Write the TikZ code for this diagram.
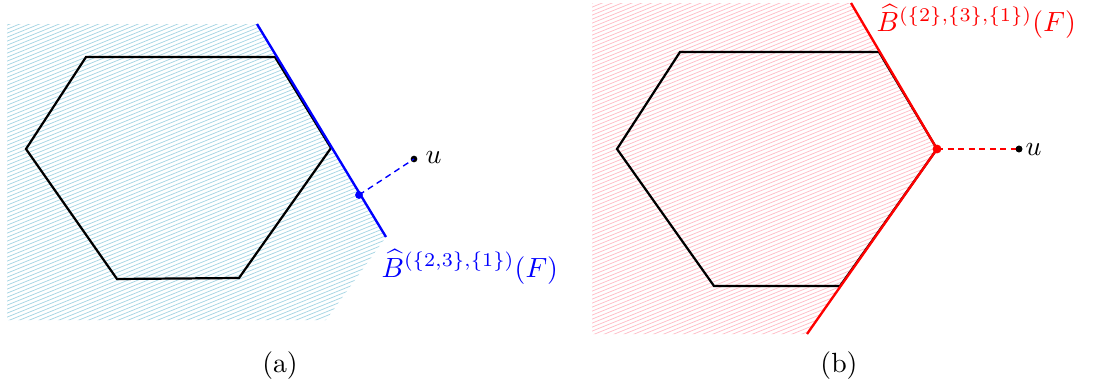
\documentclass[tikz,border=0pt]{standalone}
\usepackage{amsmath}
\definecolor{hatchblue}{RGB}{168,214,228}
\definecolor{hatchpink}{RGB}{255,190,200}
\tikzset{
  hex/.style={line width=0.8pt, black, line join=miter},
  bound/.style={line width=0.85pt},
  hatchline/.style={line width=0.28pt},
  dotnode/.style={circle, fill, inner sep=0pt, minimum size=2.4pt},
  dashconn/.style={dash pattern=on 2.2pt off 1.6pt},
  lbl/.style={anchor=base west, inner sep=0pt},
}
\begin{document}
\begin{tikzpicture}[x=0.36pt,y=-0.36pt]
\useasboundingbox (0,0) rectangle (1094,387);
% ---------- panel (a) ----------
\begin{scope}
  \clip (7,24) -- (257,24) -- (386,237) -- (326,320) -- (7,320) -- cycle;
  \foreach \k in {0,...,118} \draw[hatchline,hatchblue] (0,24+4*\k) -- ++(400,-162);
\end{scope}
\coordinate (a1) at (86,57);
\coordinate (a2) at (275,57);
\coordinate (a3) at (331,148);
\coordinate (a4) at (239,278);
\coordinate (a5) at (117,279);
\coordinate (a6) at (26,149);
\draw[hex] (a1) -- (a2) -- (a3) -- (a4) -- (a5) -- (a6) -- cycle;
\coordinate (bt) at (257,24);
\coordinate (bb) at (386,237);
\draw[bound,blue] (bt) -- (bb);
\node[dotnode, blue, minimum size=2.8pt] (pa) at (359,195) {};
\node[dotnode] (ua) at (414,159) {};
\draw[blue, dashconn, line width=0.5pt] (pa.center) -- (ua.center);
\node[lbl] (lua) at (425,163) {$u$};
\node[lbl, blue] (la) at (381,277) {$\widehat{B}^{(\{2,3\},\{1\})}(F)$};
\node (capa) at (280,366) {(a)};
% ---------- panel (b) ----------
\begin{scope}
  \clip (592,3) -- (851,3) -- (937,149) -- (807,334) -- (592,334) -- cycle;
  \foreach \k in {0,...,112} \draw[hatchline,hatchpink] (580,4*\k) -- ++(400,-162);
\end{scope}
\coordinate (b1) at (680,52);
\coordinate (b2) at (879,52);
\coordinate (b3) at (937,149);
\coordinate (b4) at (840,286);
\coordinate (b5) at (714,286);
\coordinate (b6) at (617,149);
\draw[hex] (b1) -- (b2) -- (b3) -- (b4) -- (b5) -- (b6) -- cycle;
\coordinate (rt) at (851,3);
\coordinate (rb) at (807,334);
\draw[bound,red] (rt) -- (b3) -- (rb);
\node[dotnode, red, minimum size=3.2pt] (pb) at (b3) {};
\node[dotnode] (ub) at (1019,149) {};
\draw[red, dashconn, line width=0.8pt] (pb.center) -- (ub.center);
\node[dotnode] at (ub) {};
\node[lbl] (lub) at (1025,155) {$u$};
\node[lbl, red] (lb) at (876,32) {$\widehat{B}^{(\{2\},\{3\},\{1\})}(F)$};
\node (capb) at (839,366) {(b)};
\end{tikzpicture}
\end{document}
